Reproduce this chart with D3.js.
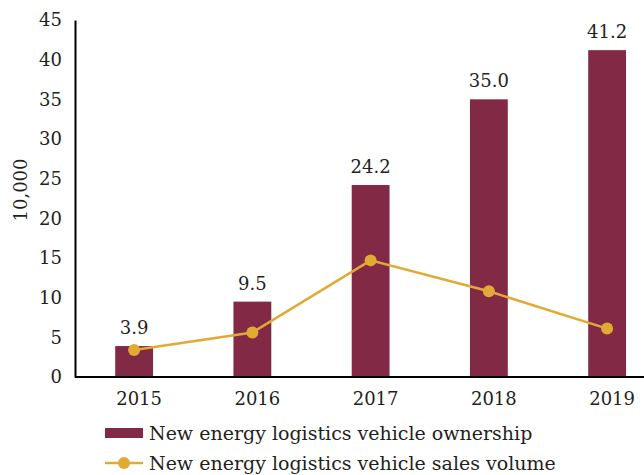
<!DOCTYPE html>
<html><head><meta charset="utf-8">
<script src="https://cdn.jsdelivr.net/npm/d3@7/dist/d3.min.js"></script>
<style>body{margin:0;background:#fff}svg{display:block}text{font-family:"DejaVu Serif",serif;fill:#231f20}</style>
</head><body>
<svg id="c" width="644" height="475"></svg>
<script>
const years = ["2015","2016","2017","2018","2019"];
const ownership = [3.9, 9.5, 24.2, 35.0, 41.2];
const sales = [3.4, 5.6, 14.7, 10.8, 6.1];
const yTicks = [0,5,10,15,20,25,30,35,40,45];
const yTitle = "10,000";
const legendLabels = ["New energy logistics vehicle ownership","New energy logistics vehicle sales volume"];

const barColor = "#822945", lineColor = "#e1aa35";
const svg = d3.select("#c");
const x = d3.scaleBand().domain(years).range([75, 666.25]).paddingInner(0.68).paddingOuter(0.34);
const y = d3.scaleLinear().domain([0,45]).range([377, 20]);

// bars
svg.append("g").selectAll("rect").data(years).join("rect")
  .attr("x", d => x(d)).attr("width", x.bandwidth())
  .attr("y", (d,i) => y(ownership[i])).attr("height", (d,i) => y(0) - y(ownership[i]))
  .attr("fill", barColor);

// bar labels
svg.append("g").selectAll("text").data(years).join("text")
  .attr("x", d => x(d) + x.bandwidth()/2).attr("y", (d,i) => y(ownership[i]) - 12)
  .attr("text-anchor","middle").attr("font-size", 18)
  .text((d,i) => ownership[i].toFixed(1));

// y axis
const yAxis = svg.append("g").attr("transform","translate(75,0)")
  .call(d3.axisLeft(y).tickValues(yTicks).tickSize(0).tickPadding(13));
yAxis.select(".domain").attr("stroke","#000").attr("stroke-width",2);
yAxis.selectAll("text").attr("font-size",18).attr("font-family","DejaVu Serif").attr("fill","#231f20");

// x axis
const xAxis = svg.append("g").attr("transform","translate(0,377)")
  .call(d3.axisBottom(x).tickSize(0).tickPadding(15));
xAxis.select(".domain").remove();
xAxis.append("line").attr("x1",75).attr("x2",644).attr("stroke","#000").attr("stroke-width",2);
xAxis.selectAll("text").attr("font-size",18).attr("dx",5).attr("font-family","DejaVu Serif").attr("fill","#231f20");

// y title
svg.append("text").attr("transform","translate(27,190) rotate(-90)")
  .attr("text-anchor","middle").attr("font-size",18).text(yTitle);

// line
const cx = d => x(d) + x.bandwidth()/2;
svg.append("path").datum(years)
  .attr("d", d3.line().x(d => cx(d)).y((d,i) => y(sales[i])))
  .attr("fill","none").attr("stroke",lineColor).attr("stroke-width",2.5);
svg.append("g").selectAll("circle").data(years).join("circle")
  .attr("cx", d => cx(d)).attr("cy", (d,i) => y(sales[i])).attr("r",6).attr("fill",lineColor);

// legend
const lg = svg.append("g");
lg.append("rect").attr("x",105).attr("y",428).attr("width",38).attr("height",10).attr("fill",barColor);
lg.append("text").attr("x",149).attr("y",440).attr("font-size",19).text(legendLabels[0]);
lg.append("line").attr("x1",105).attr("x2",143).attr("y1",463).attr("y2",463).attr("stroke",lineColor).attr("stroke-width",2.5);
lg.append("circle").attr("cx",124).attr("cy",463).attr("r",6).attr("fill",lineColor);
lg.append("text").attr("x",149).attr("y",470).attr("font-size",19).text(legendLabels[1]);
</script>
</body></html>
